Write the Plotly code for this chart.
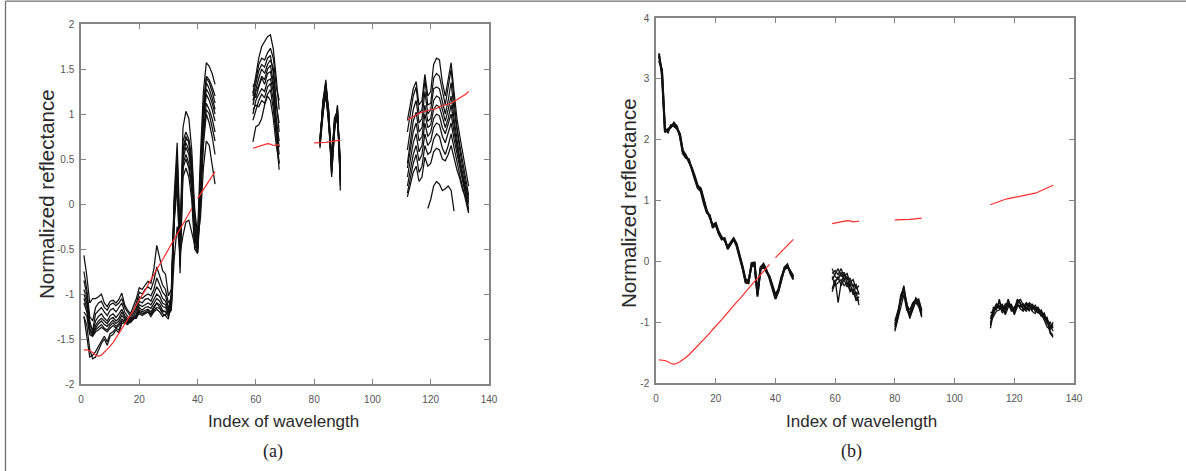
import plotly.graph_objects as go

# Wavelength indices kept in each spectral band (water-absorption bands removed)
band_idx = [list(range(1, 47)), list(range(59, 69)), list(range(80, 90)), list(range(112, 134))]

# Mean (reference) spectrum, drawn in red in both panels
mean_band1 = [-1.62, -1.62, -1.63, -1.65, -1.68, -1.69, -1.68, -1.65, -1.62, -1.58,
              -1.54, -1.49, -1.44, -1.39, -1.34, -1.29, -1.23, -1.18, -1.12, -1.07,
              -1.01, -0.96, -0.90, -0.84, -0.79, -0.73, -0.67, -0.62, -0.56, -0.50,
              -0.45, -0.39, -0.33, -0.28, -0.22, -0.16, -0.10, -0.05, None, 0.06,
              0.11, 0.17, 0.22, 0.27, 0.32, 0.36]
mean_band2 = [0.62, 0.63, 0.645, 0.655, 0.665, 0.67, 0.665, 0.65, 0.655, 0.66]
mean_band3 = [0.68, 0.68, 0.678, 0.68, 0.685, 0.69, 0.695, 0.70, 0.705, 0.71]
mean_band4 = [0.93, 0.95, 0.97, 0.99, 1.01, 1.02, 1.03, 1.04, 1.05, 1.05, 1.06,
              1.08, 1.09, 1.10, 1.11, 1.12, 1.14, 1.16, 1.18, 1.20, 1.22, 1.25]

# Panel (a): normalized spectra of the samples
a_band1 = [
    [-0.57, -0.80, -1.10, -1.05, -1.05, -1.03, -1.00, -1.10, -1.14, -1.08, -1.07, -1.10, -1.06, -0.99, -1.12,
     -1.18, -1.22, -1.13, -1.05, -0.93, -0.95, -0.90, -0.86, -0.88, -0.72, -0.46, -0.62, -0.74, -0.78, -1.02,
     -0.95, 0.10, 0.68, -0.35, 0.85, 1.03, 0.95, 0.60, -0.05, -0.35, 0.55, 1.25, 1.57, 1.53, 1.45, 1.33],
    [-0.75, -0.95, -1.25, -1.30, -1.15, -1.10, -1.08, -1.15, -1.18, -1.12, -1.10, -1.13, -1.10, -1.05, -1.15,
     -1.20, -1.25, -1.18, -1.10, -0.98, -1.00, -0.95, -0.92, -0.95, -0.85, -0.70, -0.80, -0.90, -0.95, -1.10,
     -1.05, 0.00, 0.55, -0.50, 0.70, 0.80, 0.72, 0.50, -0.20, -0.45, 0.40, 1.10, 1.42, 1.38, 1.30, 1.20],
    [-0.85, -1.00, -1.35, -1.40, -1.22, -1.18, -1.15, -1.20, -1.24, -1.18, -1.16, -1.20, -1.15, -1.10, -1.20,
     -1.25, -1.28, -1.22, -1.15, -1.03, -1.05, -1.02, -1.00, -1.02, -0.95, -0.82, -0.90, -0.98, -1.02, -1.15,
     -1.10, -0.05, 0.50, -0.60, 0.62, 0.75, 0.68, 0.40, -0.30, -0.50, 0.35, 1.05, 1.40, 1.35, 1.25, 1.12],
    [-0.95, -1.05, -1.30, -1.42, -1.30, -1.25, -1.22, -1.27, -1.30, -1.24, -1.22, -1.26, -1.22, -1.17, -1.24,
     -1.28, -1.30, -1.25, -1.18, -1.08, -1.10, -1.06, -1.05, -1.08, -1.00, -0.92, -0.97, -1.05, -1.08, -1.18,
     -1.00, 0.05, 0.45, -0.45, 0.60, 0.72, 0.70, 0.45, -0.15, -0.40, 0.30, 1.00, 1.35, 1.28, 1.18, 1.05],
    [-1.00, -1.10, -1.38, -1.45, -1.35, -1.30, -1.27, -1.30, -1.33, -1.28, -1.26, -1.30, -1.27, -1.20, -1.26,
     -1.30, -1.32, -1.28, -1.22, -1.12, -1.14, -1.12, -1.10, -1.12, -1.05, -1.00, -1.03, -1.10, -1.12, -1.20,
     -1.12, -0.10, 0.40, -0.70, 0.55, 0.68, 0.60, 0.35, -0.35, -0.53, 0.25, 0.95, 1.28, 1.22, 1.12, 1.00],
    [-1.05, -1.15, -1.40, -1.43, -1.38, -1.33, -1.30, -1.34, -1.36, -1.32, -1.29, -1.33, -1.30, -1.24, -1.28,
     -1.32, -1.30, -1.27, -1.24, -1.15, -1.18, -1.15, -1.14, -1.16, -1.10, -1.05, -1.08, -1.14, -1.15, -1.22,
     -1.08, -0.02, 0.35, -0.55, 0.50, 0.63, 0.55, 0.30, -0.25, -0.48, 0.20, 0.90, 1.22, 1.15, 1.05, 0.92],
    [-1.10, -1.20, -1.42, -1.46, -1.40, -1.37, -1.34, -1.38, -1.40, -1.35, -1.32, -1.36, -1.33, -1.28, -1.30,
     -1.33, -1.29, -1.26, -1.25, -1.18, -1.20, -1.18, -1.17, -1.20, -1.14, -1.10, -1.12, -1.18, -1.20, -1.25,
     -1.15, -0.15, 0.30, -0.77, 0.45, 0.55, 0.45, 0.20, -0.45, -0.55, 0.10, 0.80, 1.12, 1.05, 0.95, 0.80],
    [-1.20, -1.25, -1.45, -1.47, -1.42, -1.40, -1.37, -1.40, -1.42, -1.38, -1.35, -1.38, -1.35, -1.30, -1.32,
     -1.34, -1.30, -1.27, -1.27, -1.20, -1.22, -1.21, -1.20, -1.23, -1.18, -1.15, -1.16, -1.22, -1.24, -1.28,
     -1.02, -0.05, 0.25, -0.40, 0.40, 0.50, 0.40, 0.15, -0.40, -0.50, 0.05, 0.75, 1.05, 1.00, 0.85, 0.70],
    [-1.25, -1.35, -1.62, -1.72, -1.70, -1.62, -1.55, -1.50, -1.57, -1.47, -1.45, -1.40, -1.43, -1.33, -1.32,
     -1.30, -1.27, -1.28, -1.25, -1.22, -1.24, -1.22, -1.20, -1.25, -1.20, -1.17, -1.20, -1.25, -1.22, -1.20,
     -1.10, -0.20, 0.20, -0.65, 0.30, 0.40, 0.30, 0.05, -0.50, -0.55, -0.05, 0.65, 1.00, 0.90, 0.75, 0.55],
    [-1.25, -1.45, -1.70, -1.68, -1.64, -1.58, -1.52, -1.47, -1.53, -1.44, -1.42, -1.38, -1.40, -1.31, -1.29,
     -1.28, -1.26, -1.27, -1.24, -1.20, -1.22, -1.20, -1.18, -1.22, -1.16, -1.10, -1.15, -1.20, -1.19, -1.22,
     -1.18, -0.60, -0.25, -0.55, -0.35, -0.20, -0.18, -0.30, -0.45, -0.40, -0.15, 0.40, 0.70, 0.65, 0.45, 0.22],
]
a_band2 = [
    [1.23, 1.42, 1.62, 1.75, 1.80, 1.86, 1.88, 1.72, 1.40, 1.05],
    [1.30, 1.38, 1.55, 1.62, 1.60, 1.68, 1.73, 1.62, 1.30, 1.15],
    [1.20, 1.35, 1.48, 1.55, 1.52, 1.62, 1.65, 1.45, 1.10, 0.90],
    [1.15, 1.28, 1.40, 1.50, 1.45, 1.55, 1.60, 1.50, 1.15, 0.80],
    [1.10, 1.25, 1.32, 1.42, 1.38, 1.50, 1.54, 1.35, 0.95, 0.70],
    [1.25, 1.18, 1.30, 1.40, 1.33, 1.45, 1.47, 1.30, 0.90, 0.63],
    [1.00, 1.15, 1.22, 1.28, 1.25, 1.37, 1.39, 1.25, 0.85, 0.55],
    [0.93, 1.05, 1.15, 1.22, 1.18, 1.30, 1.34, 1.15, 0.80, 0.45],
    [1.05, 1.10, 1.08, 1.15, 1.12, 1.22, 1.27, 1.05, 0.75, 0.38],
    [0.69, 0.86, 0.88, 0.95, 1.10, 1.20, 1.15, 0.95, 0.65, 0.45],
]
a_band3 = [
    [None, None, 0.62, 1.10, 1.38, 1.00, 0.35, 0.80, 1.10, 0.15],
    [None, None, 0.65, 1.15, 1.35, 0.95, 0.30, 0.85, 1.05, 0.25],
    [None, None, 0.68, 1.05, 1.32, 1.05, 0.40, 0.90, 1.00, 0.30],
    [None, None, 0.70, 1.12, 1.30, 0.90, 0.45, 0.92, 0.98, 0.40],
    [None, None, 0.72, 1.08, 1.28, 1.00, 0.50, 0.88, 1.02, 0.35],
    [None, None, 0.66, 1.00, 1.25, 0.95, 0.38, 0.95, 0.95, 0.45],
    [None, None, 0.75, 1.05, 1.22, 0.85, 0.55, 0.90, 1.00, 0.50],
    [None, None, 0.70, 1.02, 1.20, 0.92, 0.42, 0.85, 0.96, 0.28],
    [None, None, 0.64, 1.00, 1.30, 1.02, 0.33, 0.82, 1.08, 0.20],
    [None, None, 0.68, 1.12, 1.34, 0.98, 0.48, 0.96, 1.04, 0.38],
]
a_band4 = [
    [0.93, 1.10, 1.28, 1.36, 1.10, 1.15, 1.44, 1.20, 1.25, 1.55, 1.62, 1.60, 1.35, 1.20, 1.40, 1.57, 1.25, 0.95, 0.75, 0.55, 0.35, 0.20],
    [0.80, 1.00, 1.20, 1.30, 1.00, 1.05, 1.38, 1.10, 1.12, 1.40, 1.45, 1.42, 1.25, 1.10, 1.30, 1.50, 1.15, 0.85, 0.65, 0.45, 0.25, 0.10],
    [0.60, 0.85, 1.05, 1.15, 0.90, 0.95, 1.25, 1.00, 1.05, 1.28, 1.30, 1.28, 1.12, 1.00, 1.15, 1.35, 1.05, 0.80, 0.60, 0.40, 0.20, 0.05],
    [0.45, 0.70, 0.92, 1.02, 0.80, 0.85, 1.10, 0.92, 0.95, 1.15, 1.20, 1.18, 1.05, 0.92, 1.05, 1.20, 0.95, 0.70, 0.50, 0.30, 0.12, -0.05],
    [0.40, 0.60, 0.80, 0.90, 0.70, 0.75, 1.00, 0.85, 0.88, 1.05, 1.10, 1.08, 0.95, 0.85, 0.95, 1.10, 0.88, 0.65, 0.48, 0.32, 0.18, 0.02],
    [0.30, 0.50, 0.68, 0.78, 0.58, 0.65, 0.90, 0.75, 0.80, 0.95, 1.00, 0.98, 0.85, 0.78, 0.88, 1.00, 0.80, 0.60, 0.45, 0.30, 0.15, 0.08],
    [0.20, 0.40, 0.55, 0.65, 0.48, 0.55, 0.78, 0.65, 0.70, 0.85, 0.90, 0.88, 0.75, 0.68, 0.78, 0.90, 0.72, 0.55, 0.40, 0.25, 0.10, -0.08],
    [0.12, 0.30, 0.45, 0.55, 0.35, 0.42, 0.65, 0.55, 0.58, 0.72, 0.78, 0.75, 0.62, 0.55, 0.65, 0.78, 0.62, 0.45, 0.32, 0.18, 0.05, -0.10],
    [0.08, 0.22, 0.35, 0.42, 0.25, 0.30, 0.52, 0.42, 0.45, 0.58, 0.62, 0.60, 0.50, 0.48, 0.55, 0.65, 0.50, 0.38, 0.28, 0.15, 0.08, 0.00],
    [None, None, None, None, None, None, None, -0.05, 0.05, 0.20, 0.25, 0.22, 0.15, 0.17, 0.20, 0.15, -0.08, None, None, None, None, None],
]

# Panel (b): spectra after transformation
b_band1 = [
    [3.38, 3.12, 2.15, 2.15, 2.22, 2.25, 2.20, 2.08, 1.80, 1.72, 1.66, 1.52, 1.38, 1.22, 1.18, 0.98,
     0.82, 0.74, 0.57, 0.62, 0.47, 0.38, 0.36, 0.22, 0.30, 0.37, 0.27, 0.10, -0.10, -0.32, -0.33,
     -0.06, -0.04, -0.55, -0.12, -0.06, -0.16, -0.26, -0.42, -0.58, -0.48, -0.28, -0.12, -0.07, -0.18, -0.27],
    [3.42, 3.05, 2.12, 2.18, 2.20, 2.28, 2.22, 2.05, 1.77, 1.70, 1.68, 1.50, 1.35, 1.20, 1.15, 0.95,
     0.80, 0.76, 0.55, 0.60, 0.45, 0.36, 0.38, 0.20, 0.28, 0.36, 0.25, 0.08, -0.12, -0.35, -0.36,
     -0.03, -0.02, -0.58, -0.10, -0.04, -0.14, -0.28, -0.45, -0.62, -0.50, -0.30, -0.10, -0.05, -0.20, -0.30],
    [3.30, 3.15, 2.18, 2.12, 2.24, 2.22, 2.18, 2.10, 1.82, 1.75, 1.63, 1.54, 1.40, 1.24, 1.20, 1.00,
     0.84, 0.72, 0.60, 0.63, 0.49, 0.40, 0.34, 0.24, 0.32, 0.38, 0.29, 0.12, -0.08, -0.30, -0.31,
     -0.08, -0.06, -0.52, -0.14, -0.08, -0.18, -0.24, -0.40, -0.55, -0.46, -0.26, -0.14, -0.09, -0.16, -0.24],
]
b_band2 = [
    [-0.20, -0.15, -0.22, -0.12, -0.25, -0.20, -0.35, -0.30, -0.45, -0.40],
    [-0.30, -0.20, -0.12, -0.25, -0.18, -0.30, -0.28, -0.42, -0.38, -0.55],
    [-0.45, -0.30, -0.68, -0.35, -0.22, -0.35, -0.40, -0.38, -0.55, -0.50],
    [-0.12, -0.25, -0.30, -0.18, -0.30, -0.25, -0.45, -0.50, -0.60, -0.65],
    [-0.50, -0.35, -0.25, -0.40, -0.30, -0.42, -0.35, -0.55, -0.50, -0.72],
    [-0.25, -0.40, -0.35, -0.30, -0.40, -0.35, -0.50, -0.45, -0.65, -0.58],
]
b_band3 = [
    [-1.12, -0.90, -0.60, -0.40, -0.70, -0.90, -0.75, -0.62, -0.68, -0.88],
    [-1.05, -0.85, -0.55, -0.45, -0.75, -0.85, -0.70, -0.65, -0.72, -0.92],
    [-0.98, -0.80, -0.65, -0.50, -0.68, -0.94, -0.78, -0.60, -0.65, -0.82],
    [-1.15, -0.95, -0.70, -0.55, -0.80, -0.88, -0.72, -0.68, -0.75, -0.90],
    [-1.02, -0.88, -0.62, -0.48, -0.72, -0.80, -0.68, -0.63, -0.70, -0.85],
    [-1.08, -0.92, -0.58, -0.42, -0.78, -0.92, -0.80, -0.66, -0.62, -0.80],
]
b_band4 = [
    [-1.10, -0.85, -0.75, -0.68, -0.78, -0.75, -0.65, -0.75, -0.78, -0.65, -0.70, -0.75, -0.68, -0.75, -0.80, -0.72, -0.80, -0.82, -0.90, -0.95, -1.05, -1.15],
    [-0.95, -0.80, -0.70, -0.75, -0.72, -0.80, -0.70, -0.72, -0.82, -0.62, -0.68, -0.80, -0.72, -0.70, -0.78, -0.76, -0.78, -0.85, -0.88, -1.00, -1.10, -1.05],
    [-1.05, -0.75, -0.80, -0.62, -0.82, -0.70, -0.72, -0.80, -0.75, -0.70, -0.62, -0.72, -0.78, -0.68, -0.72, -0.82, -0.75, -0.88, -0.95, -0.92, -1.15, -1.22],
    [-0.90, -0.88, -0.72, -0.78, -0.70, -0.85, -0.68, -0.78, -0.85, -0.72, -0.75, -0.70, -0.80, -0.78, -0.75, -0.80, -0.85, -0.80, -0.92, -1.02, -1.00, -1.10],
    [-0.85, -0.82, -0.78, -0.72, -0.85, -0.78, -0.62, -0.82, -0.80, -0.68, -0.78, -0.82, -0.70, -0.82, -0.70, -0.78, -0.82, -0.90, -0.85, -0.98, -1.18, -1.25],
    [-1.00, -0.90, -0.82, -0.80, -0.75, -0.88, -0.75, -0.70, -0.88, -0.75, -0.72, -0.78, -0.82, -0.72, -0.82, -0.86, -0.78, -0.84, -0.96, -1.08, -1.12, -1.00],
]

x_ticks = [0, 20, 40, 60, 80, 100, 120, 140]
a_yticks = [-2, -1.5, -1, -0.5, 0, 0.5, 1, 1.5, 2]
b_yticks = [-2, -1, 0, 1, 2, 3, 4]

mean_bands = [mean_band1, mean_band2, mean_band3, mean_band4]
# (axis ids, bands, width of the first band's lines, width of the other bands' lines)
panels = [
    ("x", "y", [a_band1, a_band2, a_band3, a_band4], 1.25, 1.25),
    ("x2", "y2", [b_band1, b_band2, b_band3, b_band4], 2.0, 1.3),
]

fig = go.Figure()
for xa, ya, bands, lw_first, lw_rest in panels:
    for k, (idx, curves) in enumerate(zip(band_idx, bands)):
        lw = lw_first if k == 0 else lw_rest
        for curve in curves:
            fig.add_trace(go.Scatter(x=idx, y=curve, mode="lines", xaxis=xa, yaxis=ya,
                                     line=dict(color="#111111", width=lw),
                                     connectgaps=False, showlegend=False, hoverinfo="skip"))
    for idx, curve in zip(band_idx, mean_bands):
        fig.add_trace(go.Scatter(x=idx, y=curve, mode="lines", xaxis=xa, yaxis=ya,
                                 line=dict(color="#ff2b2b", width=1.2),
                                 connectgaps=False, showlegend=False, hoverinfo="skip"))


def tick_text(vals):
    return [("%g" % v) for v in vals]


axis_common = dict(showline=True, linecolor="#858585", linewidth=1.5, mirror="allticks",
                   ticks="inside", ticklen=5, tickwidth=1.2, tickcolor="#858585",
                   showgrid=False, zeroline=False, automargin=False,
                   tickfont=dict(family="Liberation Sans, Arial, sans-serif", size=10, color="#555555"))

fig.update_layout(
    width=1186, height=471,
    margin=dict(l=0, r=0, t=0, b=0, pad=0, autoexpand=False),
    paper_bgcolor="white", plot_bgcolor="white",
    xaxis=dict(domain=[81 / 1186, 489 / 1186], range=[0, 140], tickvals=x_ticks,
               ticktext=tick_text(x_ticks), anchor="y", ticklabelstandoff=5, **axis_common),
    yaxis=dict(domain=[1 - 384 / 471, 1 - 24 / 471], range=[-2, 2], tickvals=a_yticks,
               ticktext=tick_text(a_yticks), anchor="x", ticklabelstandoff=3, **axis_common),
    xaxis2=dict(domain=[656 / 1186, 1074 / 1186], range=[0, 140], tickvals=x_ticks,
                ticktext=tick_text(x_ticks), anchor="y2", ticklabelstandoff=5, **axis_common),
    yaxis2=dict(domain=[1 - 383 / 471, 1 - 18 / 471], range=[-2, 4], tickvals=b_yticks,
                ticktext=tick_text(b_yticks), anchor="x2", ticklabelstandoff=3, **axis_common),
)

xtitle_font = dict(family="Liberation Sans, Arial, sans-serif", size=17, color="#2a2a2a")
ytitle_font = dict(family="Liberation Sans, Arial, sans-serif", size=20.5, color="#2a2a2a")
label_font = dict(family="Liberation Serif, Times New Roman, serif", size=18, color="#222222")


def px_ann(text, x, y, font, angle=0):
    fig.add_annotation(text=text, xref="paper", yref="paper", x=x / 1186, y=1 - y / 471,
                       xanchor="center", yanchor="middle", showarrow=False,
                       font=font, textangle=angle)


px_ann("Index of wavelength", 283, 421, xtitle_font)
px_ann("Normalized reflectance", 46, 194, ytitle_font, -90)
px_ann("(a)", 273, 451, label_font)
px_ann("Index of wavelength", 861, 421, xtitle_font)
px_ann("Normalized reflectance", 628, 203, ytitle_font, -90)
px_ann("(b)", 851, 451, label_font)

# Frame lines along the top and left edges of the figure
fig.add_shape(type="line", xref="paper", yref="paper",
              x0=5.5 / 1186, x1=1.0, y0=1 - 1.2 / 471, y1=1 - 1.2 / 471,
              line=dict(color="#6e6e6e", width=1.3))
fig.add_shape(type="line", xref="paper", yref="paper",
              x0=5.5 / 1186, x1=5.5 / 1186, y0=0.0, y1=1 - 1.2 / 471,
              line=dict(color="#6e6e6e", width=1.3))

fig.write_html("out.html")
